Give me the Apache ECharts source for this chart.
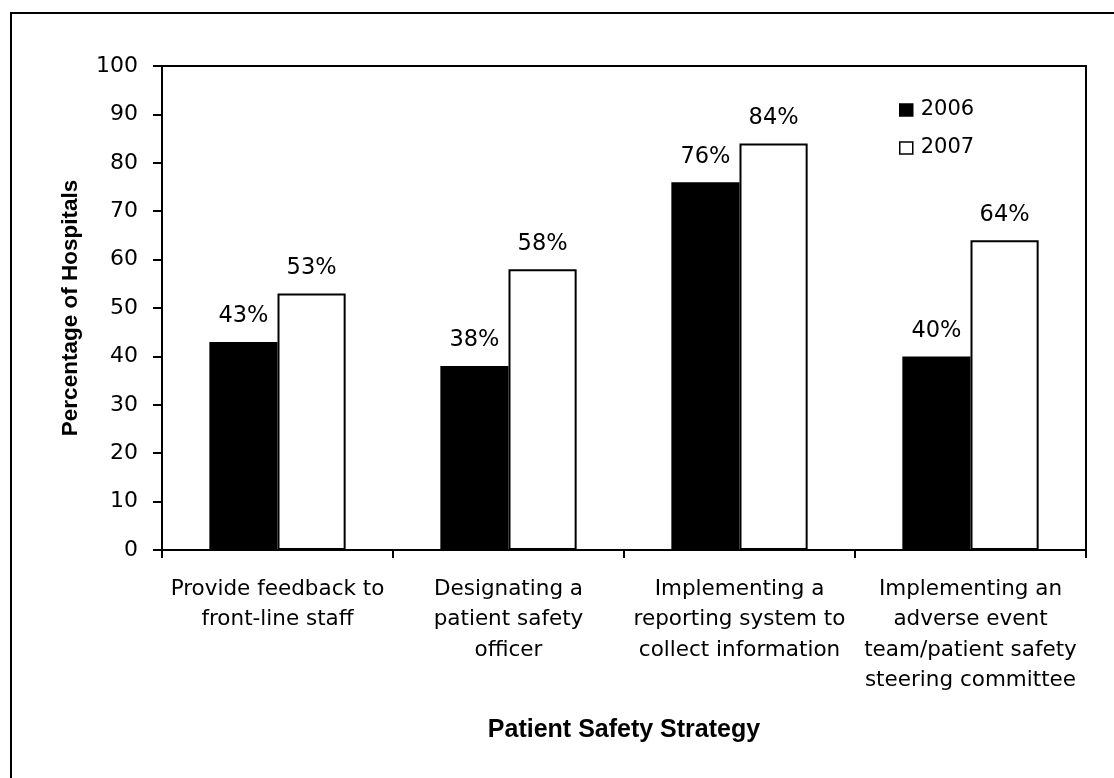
<!DOCTYPE html>
<html>
<head>
<meta charset="utf-8">
<title>Patient Safety Strategy</title>
<script src="https://cdn.jsdelivr.net/npm/echarts@6/dist/echarts.min.js"></script>
<style>
  html, body { margin: 0; padding: 0; background: #ffffff; }
  #chart { width: 1114px; height: 778px; }
</style>
</head>
<body>
<div id="chart"></div>
<script>
// Share of hospitals using each patient safety strategy, 2006 vs 2007
const categories = [
  'Provide feedback to\nfront-line staff',
  'Designating a\npatient safety\nofficer',
  'Implementing a\nreporting system to\ncollect information',
  'Implementing an\nadverse event\nteam/patient safety\nsteering committee'
];
const values2006 = [43, 38, 76, 40];
const values2007 = [53, 58, 84, 64];
const seriesNames = ['2006', '2007'];

const FONT = 'DejaVu Sans';
const TITLE_FONT = 'Liberation Sans';

const chart = echarts.init(document.getElementById('chart'), null, { renderer: 'canvas' });

const labelStyle = {
  show: true,
  position: 'top',
  distance: 14,
  formatter: '{c}%',
  color: '#000',
  fontFamily: FONT,
  fontSize: 22.5
};

chart.setOption({
  backgroundColor: '#ffffff',
  animation: false,
  graphic: [{
    type: 'rect',
    shape: { x: 11, y: 13, width: 1130, height: 790 },
    style: { fill: 'none', stroke: '#000', lineWidth: 2 },
    silent: true
  }],
  legend: {
    orient: 'vertical',
    left: 899,
    top: 99,
    padding: 0,
    itemWidth: 13,
    itemHeight: 12,
    itemGap: 16,
    icon: 'rect',
    data: seriesNames,
    itemStyle: { borderWidth: 1.5 },
    textStyle: { color: '#000', fontFamily: FONT, fontSize: 21, lineHeight: 22, padding: [0, 0, 0, 3] }
  },
  grid: {
    left: 162,
    top: 66,
    right: 28,
    bottom: 228,
    show: true,
    borderColor: '#000',
    borderWidth: 2,
    containLabel: false
  },
  xAxis: {
    type: 'category',
    data: categories,
    name: 'Patient Safety Strategy',
    nameLocation: 'middle',
    nameGap: 168,
    nameTextStyle: { color: '#000', fontFamily: TITLE_FONT, fontSize: 25, fontWeight: 'bold' },
    axisLine: { lineStyle: { color: '#000', width: 2 } },
    axisTick: { show: true, length: 8, lineStyle: { color: '#000', width: 2 } },
    axisLabel: {
      color: '#000',
      fontFamily: FONT,
      fontSize: 21.5,
      lineHeight: 30.5,
      margin: 24,
      interval: 0,
      align: 'center'
    },
    splitLine: { show: false }
  },
  yAxis: {
    type: 'value',
    min: 0,
    max: 100,
    interval: 10,
    name: 'Percentage of Hospitals',
    nameLocation: 'middle',
    nameRotate: 90,
    nameGap: 80,
    nameTextStyle: { color: '#000', fontFamily: TITLE_FONT, fontSize: 22.5, fontWeight: 'bold' },
    axisLine: { show: true, lineStyle: { color: '#000', width: 2 } },
    axisTick: { show: true, inside: false, length: 9, lineStyle: { color: '#000', width: 2 } },
    axisLabel: { color: '#000', fontFamily: FONT, fontSize: 22, margin: 24 },
    splitLine: { show: false }
  },
  series: [
    {
      name: seriesNames[0],
      type: 'bar',
      data: values2006,
      barGap: '0%',
      barCategoryGap: '41%',
      itemStyle: { color: '#000', borderColor: '#000', borderWidth: 2 },
      label: labelStyle
    },
    {
      name: seriesNames[1],
      type: 'bar',
      data: values2007,
      barGap: '0%',
      barCategoryGap: '41%',
      itemStyle: { color: '#fff', borderColor: '#000', borderWidth: 2 },
      label: labelStyle
    }
  ]
});
</script>
</body>
</html>
